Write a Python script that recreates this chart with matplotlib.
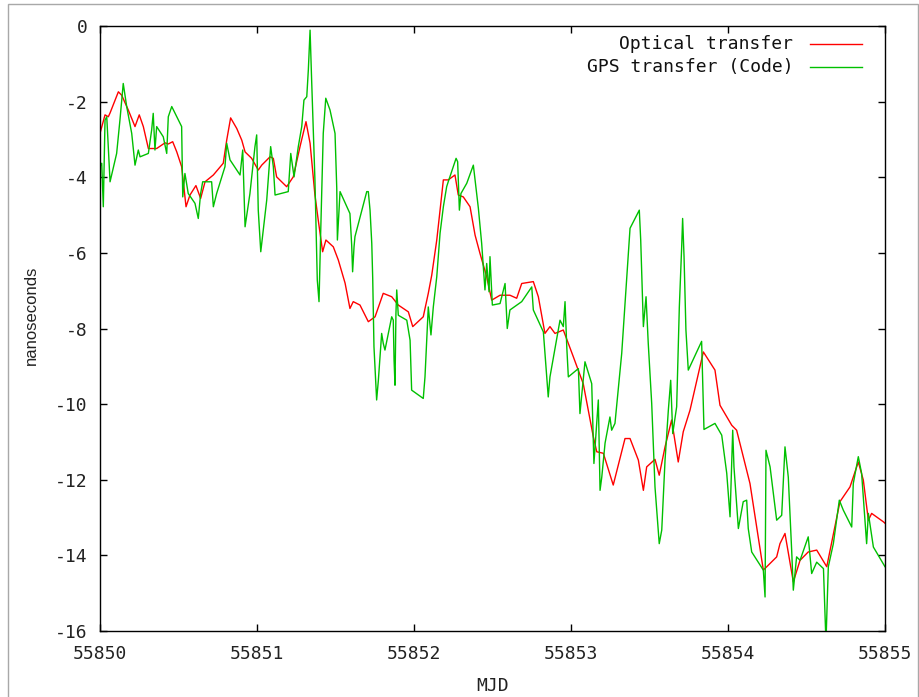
import matplotlib
matplotlib.use("Agg")
import matplotlib.pyplot as plt
from matplotlib.patches import Rectangle

# Optical transfer (red)
optical_mjd = [
    55850.000, 55850.032, 55850.053, 55850.064, 55850.117, 55850.138, 55850.180, 55850.223,
    55850.250, 55850.276, 55850.308, 55850.361, 55850.414, 55850.435, 55850.463, 55850.489,
    55850.520, 55850.548, 55850.573, 55850.611, 55850.641, 55850.669, 55850.722, 55850.785,
    55850.807, 55850.832, 55850.871, 55850.903, 55850.924, 55850.966, 55851.008, 55851.030,
    55851.083, 55851.104, 55851.125, 55851.189, 55851.231, 55851.274, 55851.312, 55851.338,
    55851.369, 55851.390, 55851.418, 55851.439, 55851.486, 55851.518, 55851.561, 55851.592,
    55851.613, 55851.656, 55851.709, 55851.752, 55851.804, 55851.858, 55851.900, 55851.964,
    55851.992, 55852.059, 55852.091, 55852.113, 55852.145, 55852.166, 55852.187, 55852.218,
    55852.261, 55852.282, 55852.314, 55852.357, 55852.389, 55852.420, 55852.463, 55852.495,
    55852.548, 55852.611, 55852.654, 55852.686, 55852.760, 55852.792, 55852.834, 55852.866,
    55852.898, 55852.951, 55853.015, 55853.078, 55853.142, 55853.164, 55853.206, 55853.269,
    55853.344, 55853.376, 55853.429, 55853.461, 55853.482, 55853.535, 55853.562, 55853.599,
    55853.641, 55853.683, 55853.715, 55853.758, 55853.843, 55853.917, 55853.949, 55854.024,
    55854.055, 55854.140, 55854.225, 55854.310, 55854.331, 55854.363, 55854.416, 55854.459,
    55854.511, 55854.565, 55854.629, 55854.713, 55854.777, 55854.830, 55854.862, 55854.894,
    55854.915, 55854.989, 55855.000,
]
optical_ns = [
    -2.84, -2.35, -2.40, -2.30, -1.74, -1.83, -2.22, -2.66,
    -2.35, -2.66, -3.24, -3.24, -3.09, -3.12, -3.06, -3.33,
    -3.72, -4.78, -4.47, -4.22, -4.56, -4.12, -3.94, -3.63,
    -3.02, -2.43, -2.71, -3.02, -3.33, -3.50, -3.81, -3.68,
    -3.46, -3.50, -3.99, -4.25, -3.99, -3.19, -2.53, -3.10,
    -4.47, -5.13, -5.97, -5.66, -5.84, -6.19, -6.80, -7.47,
    -7.29, -7.38, -7.82, -7.69, -7.07, -7.16, -7.38, -7.56,
    -7.95, -7.69, -7.07, -6.59, -5.66, -4.87, -4.07, -4.07,
    -3.94, -4.47, -4.52, -4.78, -5.53, -6.01, -6.63, -7.25,
    -7.12, -7.12, -7.20, -6.81, -6.76, -7.16, -8.13, -7.95,
    -8.13, -8.04, -8.75, -9.46, -10.86, -11.26, -11.30, -12.14,
    -10.91, -10.91, -11.48, -12.28, -11.66, -11.46, -11.88, -11.13,
    -10.42, -11.53, -10.73, -10.16, -8.62, -9.10, -10.03, -10.56,
    -10.69, -12.10, -14.39, -14.04, -13.69, -13.42, -14.70, -14.13,
    -13.91, -13.86, -14.30, -12.58, -12.19, -11.53, -12.01, -13.07,
    -12.89, -13.11, -13.15,
]

# GPS transfer, code (green)
gps_mjd = [
    55850.000, 55850.011, 55850.021, 55850.032, 55850.043, 55850.064, 55850.106, 55850.127,
    55850.148, 55850.170, 55850.202, 55850.223, 55850.244, 55850.255, 55850.308, 55850.329,
    55850.339, 55850.350, 55850.361, 55850.403, 55850.425, 55850.435, 55850.457, 55850.489,
    55850.520, 55850.527, 55850.541, 55850.562, 55850.605, 55850.626, 55850.641, 55850.654,
    55850.711, 55850.722, 55850.743, 55850.796, 55850.807, 55850.828, 55850.892, 55850.909,
    55850.924, 55850.955, 55850.987, 55850.998, 55851.008, 55851.024, 55851.062, 55851.087,
    55851.104, 55851.115, 55851.199, 55851.215, 55851.236, 55851.263, 55851.285, 55851.299,
    55851.317, 55851.327, 55851.338, 55851.348, 55851.369, 55851.384, 55851.395, 55851.406,
    55851.422, 55851.438, 55851.465, 55851.497, 55851.508, 55851.512, 55851.529, 55851.592,
    55851.603, 55851.609, 55851.618, 55851.624, 55851.699, 55851.709, 55851.720, 55851.731,
    55851.737, 55851.745, 55851.762, 55851.773, 55851.794, 55851.804, 55851.815, 55851.858,
    55851.868, 55851.873, 55851.879, 55851.885, 55851.890, 55851.900, 55851.954, 55851.975,
    55851.985, 55852.059, 55852.070, 55852.091, 55852.108, 55852.123, 55852.145, 55852.166,
    55852.187, 55852.208, 55852.218, 55852.250, 55852.268, 55852.278, 55852.289, 55852.299,
    55852.336, 55852.378, 55852.410, 55852.431, 55852.452, 55852.463, 55852.478, 55852.484,
    55852.495, 55852.499, 55852.548, 55852.580, 55852.594, 55852.611, 55852.686, 55852.750,
    55852.760, 55852.824, 55852.855, 55852.866, 55852.930, 55852.951, 55852.962, 55852.973,
    55852.983, 55853.047, 55853.057, 55853.089, 55853.132, 55853.146, 55853.164, 55853.174,
    55853.185, 55853.196, 55853.217, 55853.248, 55853.259, 55853.280, 55853.323, 55853.376,
    55853.435, 55853.444, 55853.461, 55853.478, 55853.492, 55853.514, 55853.535, 55853.562,
    55853.578, 55853.599, 55853.620, 55853.635, 55853.648, 55853.673, 55853.690, 55853.705,
    55853.711, 55853.720, 55853.732, 55853.747, 55853.832, 55853.847, 55853.917, 55853.960,
    55853.992, 55854.013, 55854.030, 55854.038, 55854.066, 55854.097, 55854.119, 55854.129,
    55854.151, 55854.225, 55854.236, 55854.242, 55854.268, 55854.310, 55854.342, 55854.363,
    55854.384, 55854.406, 55854.416, 55854.437, 55854.459, 55854.511, 55854.533, 55854.565,
    55854.608, 55854.624, 55854.639, 55854.671, 55854.709, 55854.734, 55854.788, 55854.798,
    55854.830, 55854.851, 55854.883, 55854.894, 55854.926, 55854.989, 55855.000,
]
gps_ns = [
    -3.72, -3.63, -4.78, -2.49, -2.40, -4.12, -3.37, -2.49,
    -1.52, -2.13, -2.84, -3.68, -3.28, -3.46, -3.37, -2.75,
    -2.31, -3.28, -2.66, -2.93, -3.37, -2.40, -2.13, -2.40,
    -2.66, -4.52, -3.90, -4.43, -4.69, -5.09, -4.43, -4.12,
    -4.12, -4.78, -4.43, -3.72, -3.10, -3.54, -3.94, -3.28,
    -5.31, -4.43, -3.19, -2.88, -4.87, -5.97, -4.60, -3.19,
    -3.72, -4.47, -4.38, -3.37, -3.99, -3.19, -2.66, -1.96,
    -1.87, -1.16, -0.11, -1.43, -4.07, -6.72, -7.29, -5.40,
    -2.84, -1.91, -2.22, -2.84, -4.29, -5.66, -4.38, -4.96,
    -5.79, -6.50, -5.84, -5.57, -4.38, -4.38, -4.87, -5.75,
    -6.67, -8.48, -9.89, -9.37, -8.13, -8.39, -8.57, -7.69,
    -7.78, -8.84, -9.50, -7.60, -6.98, -7.65, -7.78, -8.31,
    -9.63, -9.85, -9.28, -7.43, -8.17, -7.43, -6.63, -5.48,
    -4.78, -4.25, -4.12, -3.72, -3.50, -3.59, -4.87, -4.43,
    -4.16, -3.68, -4.82, -5.75, -6.98, -6.28, -7.03, -6.10,
    -7.07, -7.38, -7.34, -6.81, -8.00, -7.51, -7.29, -6.90,
    -7.51, -8.09, -9.81, -9.28, -7.78, -7.95, -7.29, -8.48,
    -9.28, -9.06, -10.25, -8.88, -9.46, -11.57, -10.51, -9.89,
    -12.28, -11.93, -11.03, -10.34, -10.69, -10.51, -8.66, -5.35,
    -4.87, -5.66, -7.95, -7.16, -8.39, -9.98, -12.19, -13.69,
    -13.33, -11.48, -10.16, -9.37, -10.78, -10.07, -7.43, -5.84,
    -5.09, -6.10, -8.04, -9.10, -8.34, -10.67, -10.51, -10.82,
    -11.83, -12.98, -10.69, -11.66, -13.29, -12.58, -12.54, -13.29,
    -13.91, -14.39, -15.10, -11.22, -11.66, -13.07, -12.94, -11.13,
    -11.93, -13.91, -14.92, -14.04, -14.13, -13.51, -14.48, -14.18,
    -14.35, -16.30, -14.30, -13.69, -12.54, -12.80, -13.25, -12.10,
    -11.39, -11.83, -13.69, -12.89, -13.78, -14.22, -14.30,
]

mjd_ticks = [55850, 55851, 55852, 55853, 55854, 55855]
ns_ticks = [0, -2, -4, -6, -8, -10, -12, -14, -16]

plt.rcParams['axes.unicode_minus'] = False
mono = 'DejaVu Sans Mono'

fig = plt.figure(figsize=(9.19, 6.97), dpi=100)
ax = fig.add_axes([100/919, 1 - 631/697, 785/919, 605/697])

ax.plot(optical_mjd, optical_ns, color='#ff0000', lw=1.0, label='Optical transfer')
ax.plot(gps_mjd, gps_ns, color='#00c000', lw=1.0, label='GPS transfer (Code)')

ax.set_xlim(55850, 55855)
ax.set_ylim(-16, 0)
ax.set_xticks(mjd_ticks)
ax.set_yticks(ns_ticks)
ax.set_xticklabels([str(t) for t in mjd_ticks], family=mono, fontsize=13, color='#222222')
ax.set_yticklabels([str(t) for t in ns_ticks], family=mono, fontsize=13, color='#222222')
ax.tick_params(direction='in', length=5, width=1, top=True, right=True)
ax.tick_params(axis='x', pad=10)
ax.tick_params(axis='y', pad=9)
for s in ax.spines.values():
    s.set_linewidth(1.0)
    s.set_color('black')

ax.set_xlabel('MJD', family=mono, fontsize=13, color='#222222')
ax.xaxis.set_label_coords(0.5, -0.076)
ax.set_ylabel('nanoseconds', family='Liberation Sans', fontsize=12, color='#222222')
ax.yaxis.set_label_coords(-0.078, 0.522)

# gnuplot style key: text right-aligned, sample line on the right
key_rows = [0.970, 0.933]
for line, ky in zip(ax.get_lines(), key_rows):
    ax.text(0.883, ky, line.get_label(), transform=ax.transAxes, ha='right', va='center',
            family=mono, fontsize=13, color='#111111')
    ax.plot([0.9045, 0.9707], [ky, ky], transform=ax.transAxes,
            color=line.get_color(), lw=1.0)

# light frame around the picture
fig.add_artist(Rectangle((8/919, -0.01), 910/919, 1.01 - 4/697, transform=fig.transFigure,
                         fill=False, edgecolor='#a8a8a8', lw=1.0))

fig.savefig('out.png', dpi=100, facecolor='white')
